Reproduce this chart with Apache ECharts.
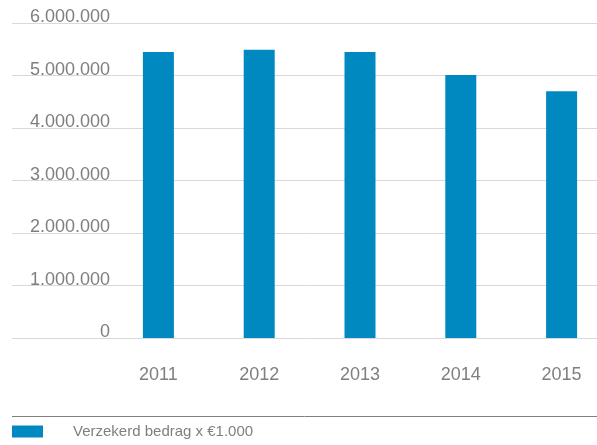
<!DOCTYPE html>
<html>
<head>
<meta charset="utf-8">
<script src="https://cdn.jsdelivr.net/npm/echarts@6/dist/echarts.min.js"></script>
<style>
html,body{margin:0;padding:0;background:#fff;}
#chart{width:597px;height:445px;}
</style>
</head>
<body>
<div id="chart"></div>
<script>
var categories = ['2011', '2012', '2013', '2014', '2015'];
var values = [5450000, 5490000, 5450000, 5010000, 4700000];
var seriesName = 'Verzekerd bedrag x \u20ac1.000';
var yMin = 0, yMax = 6000000, yInterval = 1000000;

function fmt(v) {
  return String(v).replace(/\B(?=(\d{3})+(?!\d))/g, '.');
}

var chart = echarts.init(document.getElementById('chart'), null, {renderer: 'canvas'});
var font = 'Liberation Sans, Arial, sans-serif';
var gray = '#7f7f7f';
chart.setOption({
  animation: false,
  backgroundColor: '#fff',
  grid: [
    {left: 12, right: 0, top: 23, bottom: 107, outerBoundsMode: 'none'},
    {left: 108, right: -15, top: 23, bottom: 107, outerBoundsMode: 'none'}
  ],
  xAxis: [
    {gridIndex: 0, type: 'category', data: categories, show: false},
    {gridIndex: 1, type: 'category', data: categories,
     axisLine: {show: false}, axisTick: {show: false},
     axisLabel: {color: gray, fontSize: 18, fontFamily: font, margin: 28, lineHeight: 18}}
  ],
  yAxis: [
    {gridIndex: 0, type: 'value', min: yMin, max: yMax, interval: yInterval,
     axisLabel: {show: false}, axisLine: {show: false}, axisTick: {show: false},
     splitLine: {show: true, lineStyle: {color: '#d9d9d9', width: 1}}},
    {gridIndex: 1, type: 'value', min: yMin, max: yMax, interval: yInterval,
     axisLine: {show: false}, axisTick: {show: false}, splitLine: {show: false},
     axisLabel: {color: gray, fontSize: 18, fontFamily: font, margin: -2,
       verticalAlign: 'bottom', lineHeight: 11,
       formatter: function (v) { return fmt(v); }}}
  ],
  legend: {
    left: 12, top: 424, padding: 0, itemWidth: 31, itemHeight: 12, icon: 'rect',
    textStyle: {color: gray, fontSize: 15, fontFamily: font, padding: [0, 0, 0, 25]},
    data: [seriesName]
  },
  graphic: [
    {type: 'line', shape: {x1: 12, y1: 416.5, x2: 597, y2: 416.5},
     style: {stroke: '#808080', lineWidth: 1}, silent: true}
  ],
  series: [
    {name: seriesName, type: 'bar', xAxisIndex: 1, yAxisIndex: 1, data: values,
     barWidth: 31, itemStyle: {color: '#0089c1'}}
  ]
});
</script>
</body>
</html>
